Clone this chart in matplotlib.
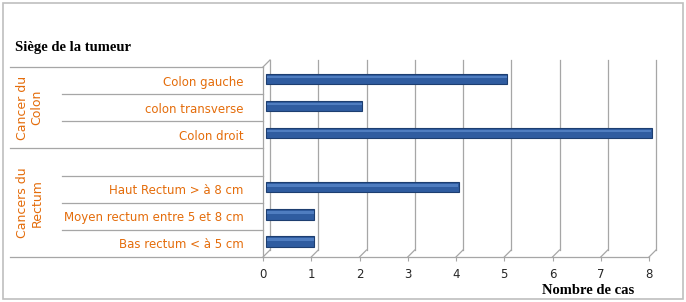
import matplotlib.pyplot as plt
from matplotlib.patches import Rectangle

# données (du bas vers le haut)
categories = ["Bas rectum < à 5 cm", "Moyen rectum entre 5 et 8 cm", "Haut Rectum > à 8 cm",
              "", "Colon droit", "colon transverse", "Colon gauche"]
nb_cas = [1, 1, 4, 0, 8, 2, 5]
groupes = ["Cancers du\nRectum", "Cancer du\nColon"]
ticks_x = [0, 1, 2, 3, 4, 5, 6, 7, 8]

orange = "#E46C0A"
gris = "#A6A6A6"
bleu = "#2F5CA0"

W, H = 686, 302
fig = plt.figure(figsize=(W / 100, H / 100), dpi=100)
fig.add_artist(Rectangle((3 / W, 3 / H), 680 / W, 296 / H, transform=fig.transFigure,
                         fill=False, edgecolor="#BFBFBF", lw=1.2))

# axe: 0 -> px 263, 8 -> px 649 ; lignes de 67 a 257
x0, x1, y0, y1 = 263, 649, 67, 257
ax = fig.add_axes([x0 / W, 1 - y1 / H, (x1 - x0) / W, (y1 - y0) / H])
ax.set_xlim(0, 8)
ax.set_ylim(-0.5, len(categories) - 0.5)
for s in ax.spines.values():
    s.set_visible(False)

# effet 3D: decalage du mur du fond
dx = 7 / ((x1 - x0) / 8)
dy = 7 / ((y1 - y0) / len(categories))
yb, yt = -0.5, len(categories) - 0.5
for t in ticks_x:
    ax.plot([t + dx, t + dx], [yb + dy, yt + dy], color=gris, lw=0.9, clip_on=False, zorder=1)
    ax.plot([t, t + dx], [yb, yb + dy], color=gris, lw=0.9, clip_on=False, zorder=1)
ax.plot([0, 0], [yb, yt], color=gris, lw=0.9, clip_on=False, zorder=1)
ax.plot([0, dx], [yt, yt + dy], color=gris, lw=0.9, clip_on=False, zorder=1)
ax.plot([0, 8], [yb, yb], color=gris, lw=0.9, clip_on=False, zorder=1)

# barres (les lignes vides ne sont pas dessinees)
pos = [i for i, v in enumerate(nb_cas) if v]
vals = [v for v in nb_cas if v]
ax.barh([p + 0.07 for p in pos], vals, height=0.38, left=0.06, color=bleu,
        edgecolor="#1D3E70", linewidth=0.8, zorder=3, clip_on=False)
ax.barh([p + 0.14 for p in pos], [v - 0.03 for v in vals], height=0.09, left=0.08,
        color="#4F7DC0", linewidth=0, zorder=4, clip_on=False)

ax.set_xticks(ticks_x)
ax.set_xticklabels([str(t) for t in ticks_x], fontsize=8.5, color="#262626")
ax.tick_params(axis="x", length=3, color=gris, pad=5)
ax.set_yticks(range(len(categories)))
ax.set_yticklabels(categories, fontsize=8.5, color=orange)
ax.tick_params(axis="y", length=0, pad=14)

# tableau a gauche
tr = ax.get_yaxis_transform()
xl_out = (10 - x0) / (x1 - x0)
xl_in = (62 - x0) / (x1 - x0)
for b in [yb, 3.5, yt]:
    ax.plot([xl_out, 0], [b, b], color=gris, lw=0.9, transform=tr, clip_on=False)
for b in [0.5, 1.5, 2.5, 4.5, 5.5]:
    ax.plot([xl_in, 0], [b, b], color=gris, lw=0.9, transform=tr, clip_on=False)
xg = (30 - x0) / (x1 - x0)
ax.text(xg, 1.5, groupes[0], transform=tr, rotation=90, ha="center", va="center",
        fontsize=9, color=orange, linespacing=1.1)
ax.text(xg, 5.0, groupes[1], transform=tr, rotation=90, ha="center", va="center",
        fontsize=9, color=orange, linespacing=1.1)

fig.text(15 / W, 1 - 47 / H, "Siège de la tumeur", fontsize=10.5, fontweight="bold",
         family="Liberation Serif", va="center", ha="left")
fig.text(588 / W, 1 - 291 / H, "Nombre de cas", fontsize=10.5, fontweight="bold",
         family="Liberation Serif", va="center", ha="center")

fig.savefig("out.png", dpi=100)
